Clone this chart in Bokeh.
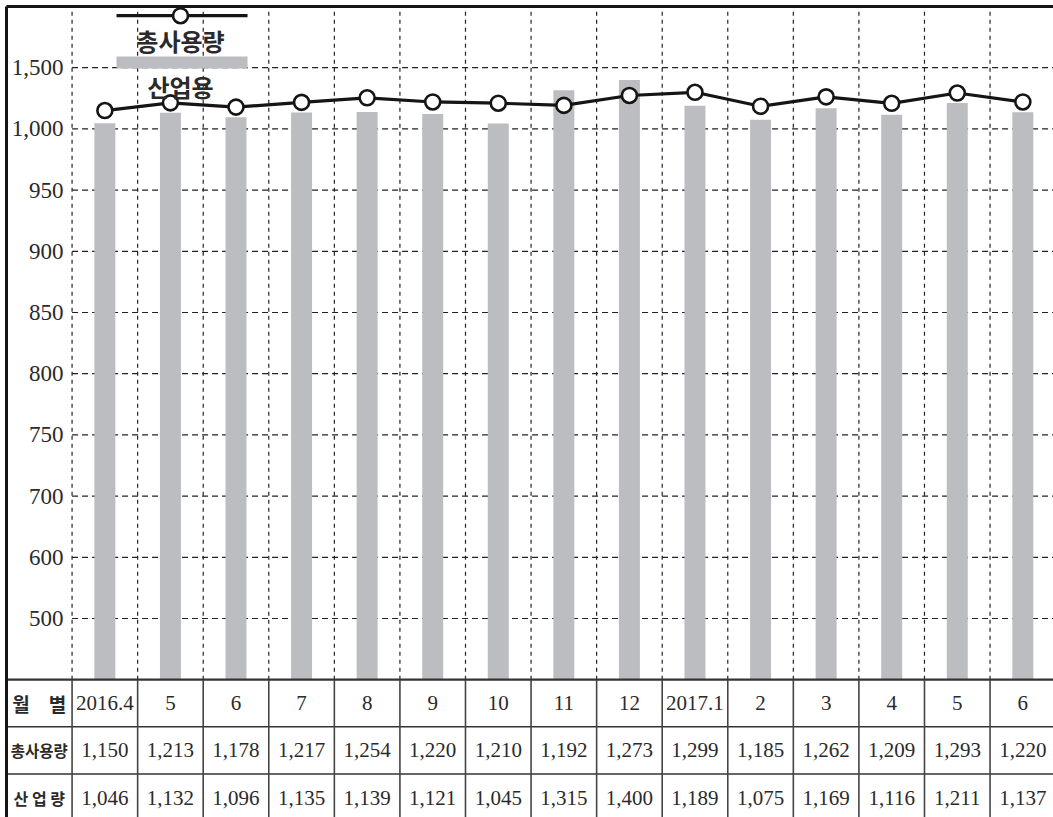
import numpy as np
from bokeh.plotting import figure
from bokeh.models import Range1d
from bokeh.core.properties import value
from bokeh.embed import file_html
from bokeh.resources import INLINE

# ---------------- data ----------------
months = ["2016.4", "5", "6", "7", "8", "9", "10", "11", "12",
          "2017.1", "2", "3", "4", "5", "6"]
total_use = [1150, 1213, 1178, 1217, 1254, 1220, 1210, 1192, 1273,
             1299, 1185, 1262, 1209, 1293, 1220]
industrial = [1046, 1132, 1096, 1135, 1139, 1121, 1045, 1315, 1400,
              1189, 1075, 1169, 1116, 1211, 1137]
tick_values = [500, 600, 700, 750, 800, 850, 900, 950, 1000, 1500]
tick_labels = ["500", "600", "700", "750", "800", "850", "900", "950",
               "1,000", "1,500"]
row_labels = ["월　별", "총사용량", "산 업 량"]
legend_labels = ["총사용량", "산업용"]

# ---------------- broken value axis: every labelled tick is one equal step ----
tick_pos = list(range(1, len(tick_values) + 1))
TOP = len(tick_values) + 1


def to_pos(v):
    return np.interp(v, tick_values, tick_pos)


# ---------------- layout / style ----------------
W, H = 1053, 817
PX_X, PX_Y = 65.57, 61.2
x0 = -1 - 6 / PX_X
x1 = x0 + W / PX_X
y1 = TOP + 6 / PX_Y
y0 = y1 - H / PX_Y
ROW_H = 0.77

BAR = "#bcbdc1"
INK = "#151515"
TXT = "#2a2a2a"
SERIF = value("Liberation Serif")
KR = value("Noto Sans CJK KR")

n = len(months)
centers = np.arange(n) + 0.5

p = figure(width=W, height=H, x_range=Range1d(x0, x1), y_range=Range1d(y0, y1),
           output_backend="svg", toolbar_location=None,
           x_axis_location=None, y_axis_location=None,
           min_border=0, outline_line_color=None,
           background_fill_color="white", border_fill_color="white")
p.grid.visible = False

# dashed grid of the chart area
p.segment(x0=[0] * len(tick_pos), x1=[x1] * len(tick_pos), y0=tick_pos, y1=tick_pos,
          line_color="#222222", line_width=1.2, line_dash="6 4")
p.segment(x0=list(range(n + 1)), x1=list(range(n + 1)), y0=[0] * (n + 1),
          y1=[TOP] * (n + 1), line_color="#222222", line_width=1.2, line_dash="4 4")

# bars (industrial)
p.vbar(x=centers, width=0.32, bottom=0, top=to_pos(industrial),
       fill_color=BAR, line_color=None)

# line (total use)
p.line(centers, to_pos(total_use), line_color=INK, line_width=3.2)
p.scatter(centers, to_pos(total_use), size=15, marker="circle",
          fill_color="white", line_color=INK, line_width=2.6)

# y tick labels inside the left column
p.text(x=[-0.13] * len(tick_pos), y=tick_pos, text=tick_labels,
       text_align="right", text_baseline="middle", text_font=SERIF,
       text_font_size="23px", text_color=TXT)

# ---------------- table ----------------
row_lines = [0, -ROW_H, -2 * ROW_H]
p.segment(x0=[-1] * 3, x1=[x1] * 3, y0=row_lines, y1=row_lines,
          line_color="#333333", line_width=[2.2, 1.6, 1.6])
p.segment(x0=list(range(n + 1)), x1=list(range(n + 1)), y0=[0] * (n + 1),
          y1=[y0] * (n + 1), line_color="#444444", line_width=1.6)

row_centers = [-(i + 0.5) * ROW_H for i in range(3)]
p.text(x=centers, y=[row_centers[0]] * n, text=months, text_align="center",
       text_baseline="middle", text_font=SERIF, text_font_size="21px",
       text_color=TXT)
p.text(x=centers, y=[row_centers[1]] * n, text=[f"{v:,}" for v in total_use],
       text_align="center", text_baseline="middle", text_font=SERIF,
       text_font_size="21px", text_color=TXT)
p.text(x=centers, y=[row_centers[2]] * n, text=[f"{v:,}" for v in industrial],
       text_align="center", text_baseline="middle", text_font=SERIF,
       text_font_size="21px", text_color=TXT)

row_sizes = ["19px", "15.5px", "16px"]
for lab, yc, fs in zip(row_labels, row_centers, row_sizes):
    p.text(x=[-0.5], y=[yc], text=[lab], text_align="center",
           text_baseline="middle", text_font=KR, text_font_size=fs,
           text_font_style="bold", text_color=TXT)

# frame borders (left and top)
p.segment(x0=[-1], x1=[-1], y0=[y0], y1=[TOP], line_color=INK, line_width=3)
p.segment(x0=[-1], x1=[x1], y0=[TOP], y1=[TOP], line_color=INK, line_width=3)

# ---------------- legend (stacked, top-left) ----------------
LX0, LX1, LXC = 0.678, 2.676, 1.654
p.line([LX0, LX1], [10.85, 10.85], line_color=INK, line_width=3.2)
p.scatter([LXC], [10.85], size=15, marker="circle", fill_color="white",
          line_color=INK, line_width=2.6)
p.text(x=[LXC], y=[10.44], text=[legend_labels[0]], text_align="center",
       text_baseline="middle", text_font=KR, text_font_size="24px",
       text_font_style="bold", text_color=TXT)
p.quad(left=[LX0], right=[LX1], bottom=[9.987], top=[10.183],
       fill_color=BAR, line_color=None)
p.text(x=[LXC], y=[9.69], text=[legend_labels[1]], text_align="center",
       text_baseline="middle", text_font=KR, text_font_size="24px",
       text_font_style="bold", text_color=TXT)

open("out.html", "w").write(file_html(p, INLINE))
